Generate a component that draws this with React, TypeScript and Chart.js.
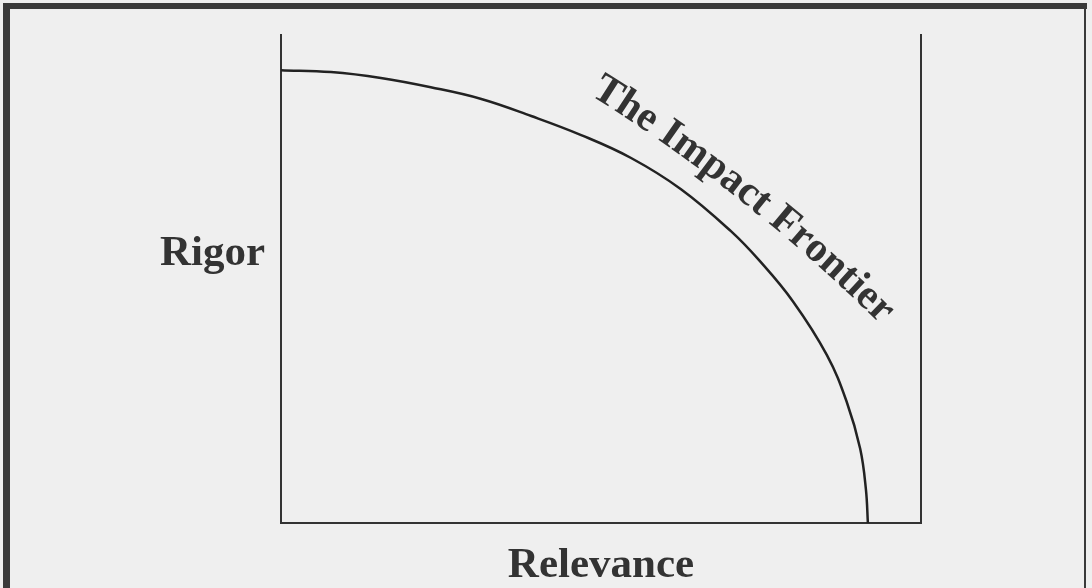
import React, { useEffect, useRef } from "react";
import { Chart, registerables } from "chart.js";

Chart.register(...registerables);

// Frontier curve (relevance on x, rigor on y; axes 0..100)
const relevance = [0, 7.8, 15.6, 23.4, 31.3, 39.1, 46.9, 54.7, 62.5, 70.3, 74.8, 80.0, 85.3, 88.4, 90.5, 91.4, 91.7];
const rigor = [92.8, 92.4, 91.2, 89.3, 86.9, 83.4, 79.5, 74.8, 68.4, 59.8, 53.7, 45.4, 34.4, 24.8, 15.2, 6.8, 0];

const xAxisTitle = "Relevance";
const yAxisTitle = "Rigor";
const curveLabel = "The Impact Frontier";

const INK = "#333333";
const BG = "#efefef";
const FONT = "bold 43px 'Liberation Serif', 'Times New Roman', serif";

function drawArcText(ctx: any, text: string, x0: number, y0: number, x1: number, y1: number, sag: number) {
  const dx = x1 - x0;
  const dy = y1 - y0;
  const L = Math.hypot(dx, dy);
  const ux = dx / L;
  const uy = dy / L;
  const nx = uy; // outward normal (up-right)
  const ny = -ux;
  const R = (L * L) / (8 * sag) + sag / 2;
  const mx = (x0 + x1) / 2;
  const my = (y0 + y1) / 2;
  const cx = mx - nx * (R - sag);
  const cy = my - ny * (R - sag);
  const base = Math.atan2(uy, ux);
  const W = ctx.measureText(text).width;
  let t = -W / 2;
  for (const ch of text) {
    const w = ctx.measureText(ch).width;
    const phi = (t + w / 2) / R;
    const px = cx + R * (nx * Math.cos(phi) + ux * Math.sin(phi));
    const py = cy + R * (ny * Math.cos(phi) + uy * Math.sin(phi));
    ctx.save();
    ctx.translate(px, py);
    ctx.rotate(base + phi);
    ctx.textAlign = "center";
    ctx.fillText(ch, 0, 0);
    ctx.restore();
    t += w;
  }
}

const decorPlugin = {
  id: "decor",
  beforeDraw(chart: any) {
    const ctx = chart.ctx;
    ctx.save();
    ctx.fillStyle = BG;
    ctx.fillRect(0, 0, chart.width, chart.height);
    ctx.restore();
  },
  afterDraw(chart: any) {
    const ctx = chart.ctx;
    const area = chart.chartArea;
    ctx.save();
    // outer frame (no bottom edge)
    ctx.fillStyle = "#3a3a3a";
    ctx.fillRect(3, 3, 7, chart.height - 3);
    ctx.fillRect(3, 3, 1084, 6);
    ctx.fillRect(1084, 3, 2, chart.height - 3);

    ctx.fillStyle = INK;
    ctx.font = FONT;
    ctx.textBaseline = "alphabetic";
    // y title (horizontal)
    ctx.textAlign = "left";
    ctx.fillText(yAxisTitle, 160, 265);
    // x title
    ctx.textAlign = "center";
    ctx.fillText(xAxisTitle, (area.left + area.right) / 2, 577);
    // curve label along a gentle arc
    ctx.font = "bold 42px 'Liberation Serif', 'Times New Roman', serif";
    drawArcText(ctx, curveLabel, 592, 96, 878, 322, 10);
    ctx.restore();
  },
};

export default function App() {
  const ref = useRef<HTMLCanvasElement | null>(null);
  useEffect(() => {
    if (!ref.current) return;
    const axisCommon = {
      type: "linear" as const,
      min: 0,
      max: 100,
      display: true,
      grid: { display: false, drawTicks: false },
      ticks: { display: false },
      border: { display: true, color: INK, width: 2 },
    };
    const chart = new Chart(ref.current, {
      type: "line",
      data: {
        datasets: [
          {
            label: curveLabel,
            data: relevance.map((x, i) => ({ x, y: rigor[i] })),
            borderColor: "#222222",
            borderWidth: 2.5,
            pointRadius: 0,
            fill: false,
            tension: 0.4,
          },
        ],
      },
      options: {
        responsive: false,
        animation: false,
        events: [],
        layout: { padding: { left: 281, right: 171, top: 35, bottom: 65 } },
        plugins: { legend: { display: false }, tooltip: { enabled: false }, title: { display: false } },
        scales: {
          x: { ...axisCommon, position: "bottom" },
          y: { ...axisCommon, position: "left" },
          y2: { ...axisCommon, position: "right" },
        },
      },
      plugins: [decorPlugin],
    } as any);
    return () => chart.destroy();
  }, []);
  return (
    <div style={{ position: "fixed", left: 0, top: 0, width: 1092, height: 588, background: BG }}>
      <canvas ref={ref} width={1092} height={588} style={{ display: "block" }} />
    </div>
  );
}
